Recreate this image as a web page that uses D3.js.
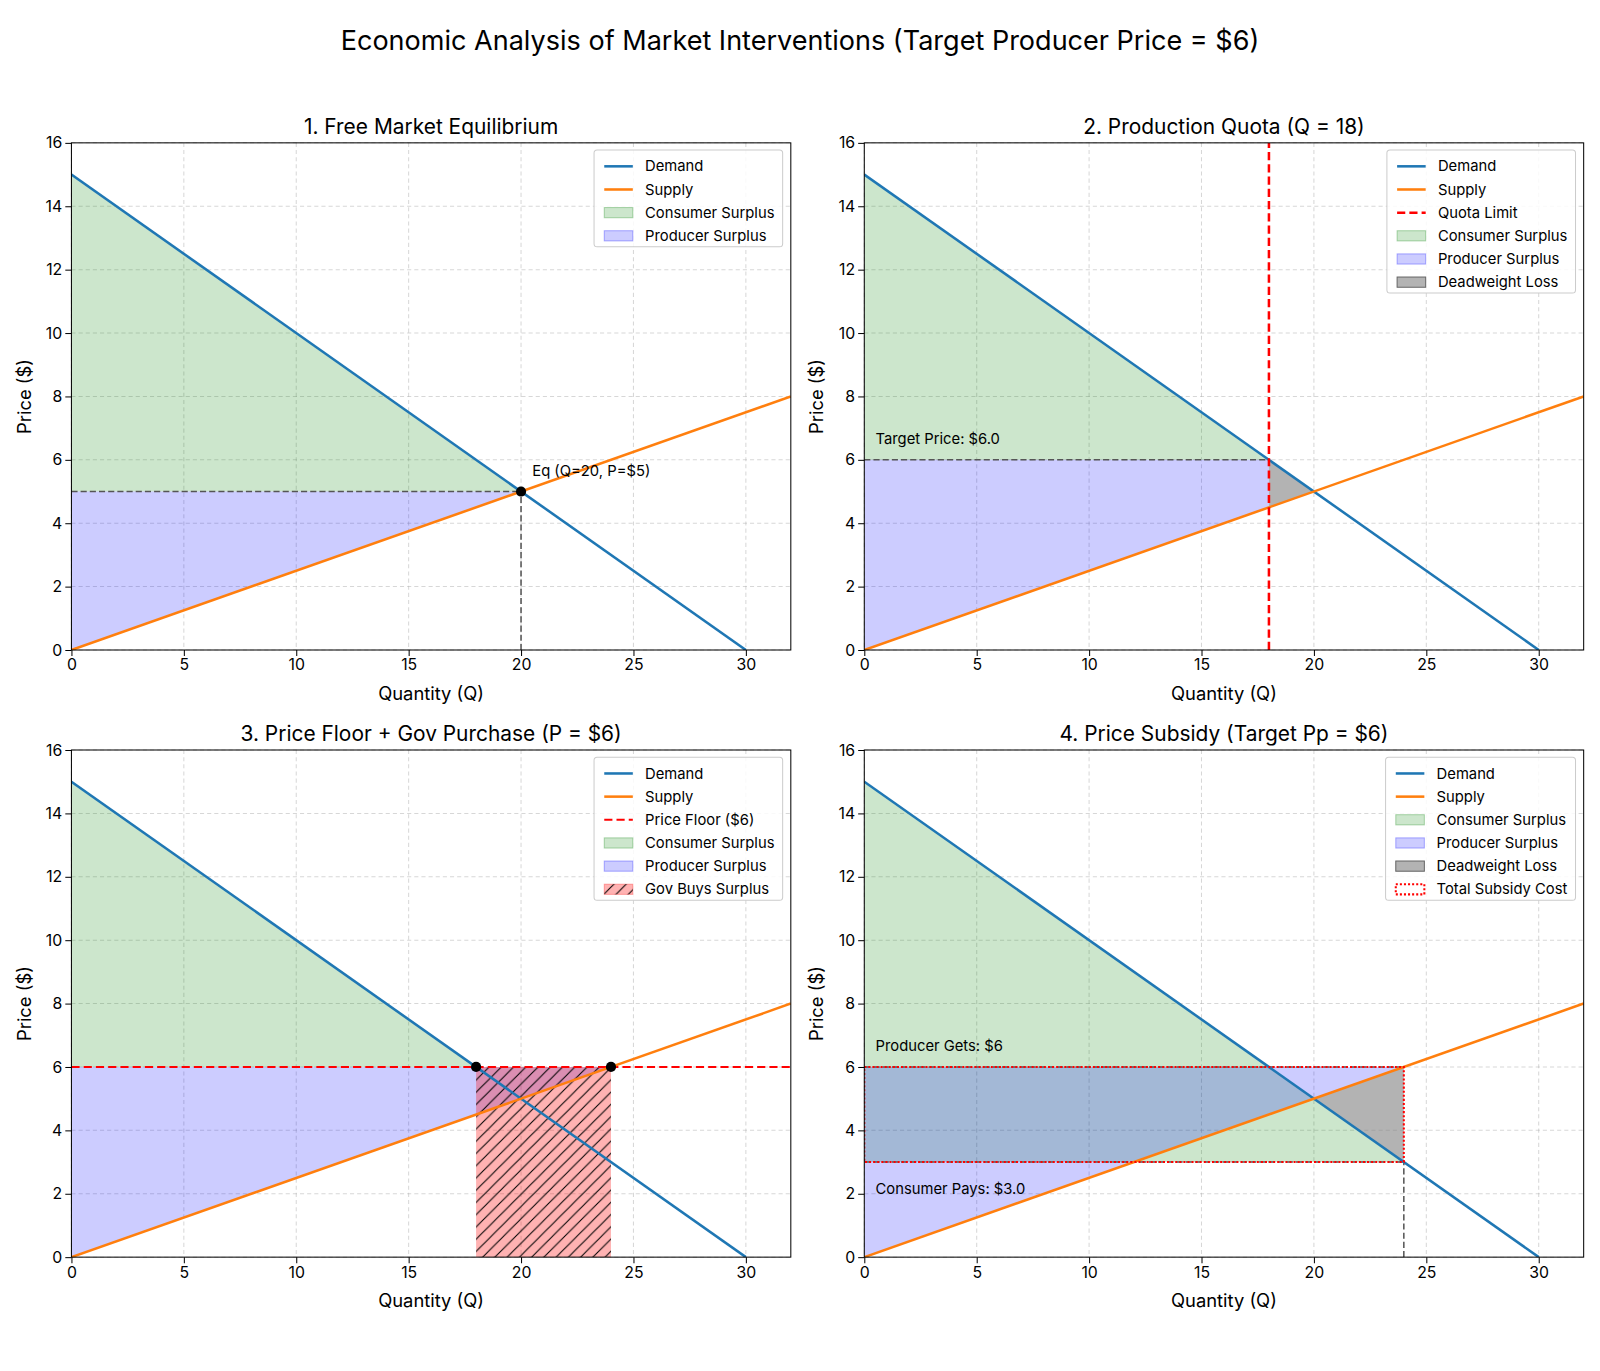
<!DOCTYPE html>
<html><head><meta charset="utf-8">
<script src="https://cdn.jsdelivr.net/npm/d3@7"></script>
<style>body{margin:0;background:#fff;font-family:"Inter","Noto Sans",sans-serif;}</style>
</head><body><div id="chart"></div>
<script>
// market model: demand P = 15 - 0.5Q, supply P = 0.25Q
var demandQ = [0, 30], demandP = [15, 0];
var supplyQ = [0, 32], supplyP = [0, 8];
var xTicks = [0, 5, 10, 15, 20, 25, 30];
var yTicks = [0, 2, 4, 6, 8, 10, 12, 14, 16];
var titles = ["1. Free Market Equilibrium", "2. Production Quota (Q = 18)",
  "3. Price Floor + Gov Purchase (P = $6)", "4. Price Subsidy (Target Pp = $6)"];

var W = 1600, H = 1371, S = 1600 / 1568;
var root = d3.select("#chart").append("svg").attr("width", W).attr("height", H)
  .style("font-family", "Inter, 'Noto Sans', sans-serif");
var defs = root.append("defs");
var svg = root.append("g").attr("transform", "scale(" + S + ")");
svg.append("text").attr("x", 784).attr("y", 49).attr("text-anchor", "middle")
  .attr("font-size", 26.5).text("Economic Analysis of Market Interventions (Target Producer Price = $6)");

var pos = [[70, 140], [847, 140], [70, 735], [847, 735]];
var pw = 705, ph = 497;
defs.append("pattern").attr("id", "hatch").attr("patternUnits", "userSpaceOnUse")
  .attr("width", 12).attr("height", 12)
  .append("path").attr("d", "M-3,15 L15,-3 M-3,3 L3,-3 M9,15 L15,9")
  .attr("stroke", "#000").attr("stroke-width", 1);

var green = "rgba(0,128,0,0.2)", blue = "rgba(0,0,255,0.2)", grey = "rgba(128,128,128,0.6)", pink = "rgba(255,0,0,0.3)";

function panel(i) {
  var g = svg.append("g").attr("transform", "translate(" + pos[i][0] + "," + pos[i][1] + ")");
  var x = d3.scaleLinear().domain([0, 32]).range([0, pw]);
  var y = d3.scaleLinear().domain([0, 16]).range([ph, 0]);
  defs.append("clipPath").attr("id", "clip" + i).append("rect").attr("width", pw).attr("height", ph);
  var grid = g.append("g").attr("stroke", "#b0b0b0").attr("stroke-opacity", 0.5).attr("stroke-dasharray", "4,3");
  xTicks.forEach(function (t) { grid.append("line").attr("x1", x(t)).attr("x2", x(t)).attr("y1", 0).attr("y2", ph); });
  yTicks.forEach(function (t) { grid.append("line").attr("y1", y(t)).attr("y2", y(t)).attr("x1", 0).attr("x2", pw); });
  var body = g.append("g").attr("clip-path", "url(#clip" + i + ")");
  var line = d3.line().x(function (d) { return x(d[0]); }).y(function (d) { return y(d[1]); });
  function poly(pts, fill) {
    return body.append("path").attr("d", line(pts) + "Z").attr("fill", fill);
  }
  function dline(pts, color, dash, w) {
    body.append("path").attr("d", line(pts)).attr("fill", "none").attr("stroke", color)
      .attr("stroke-width", w || 1.5).attr("stroke-dasharray", dash || null);
  }
  return {g: g, body: body, x: x, y: y, line: line, poly: poly, dline: dline};
}

function curves(p) {
  p.dline(d3.zip(demandQ, demandP), "#1f77b4", null, 2.5);
  p.dline(d3.zip(supplyQ, supplyP), "#ff7f0e", null, 2.5);
}

function finish(p, i, legend) {
  var g = p.g;
  g.append("rect").attr("width", pw).attr("height", ph).attr("fill", "none").attr("stroke", "#000").attr("stroke-width", 1);
  var xa = g.append("g").attr("transform", "translate(0," + ph + ")").call(d3.axisBottom(p.x).tickValues(xTicks).tickSizeOuter(0));
  var ya = g.append("g").call(d3.axisLeft(p.y).tickValues(yTicks).tickSizeOuter(0));
  [xa, ya].forEach(function (a) { a.select(".domain").remove(); a.selectAll("text").attr("font-size", 15.5).attr("font-family", "Inter, 'Noto Sans', sans-serif").attr("fill", "#000"); });
  g.append("text").attr("x", pw / 2).attr("y", ph + 49).attr("text-anchor", "middle").attr("font-size", 18).text("Quantity (Q)");
  g.append("text").attr("transform", "translate(-40," + ph / 2 + ") rotate(-90)").attr("text-anchor", "middle").attr("font-size", 18).text("Price ($)");
  g.append("text").attr("x", pw / 2).attr("y", -9).attr("text-anchor", "middle").attr("font-size", 20.5).text(titles[i]);
  // legend
  var lg = g.append("g");
  var box = lg.append("rect").attr("fill", "#fff").attr("fill-opacity", 0.85).attr("stroke", "#ccc").attr("rx", 3);
  var maxw = 0;
  legend.forEach(function (e, k) {
    var yy = 16 + k * 22.7;
    if (e.type === "line") {
      lg.append("line").attr("x1", 10).attr("x2", 38).attr("y1", yy).attr("y2", yy).attr("stroke", e.color)
        .attr("stroke-width", e.w || 2.5).attr("stroke-dasharray", e.dash || null);
    } else {
      lg.append("rect").attr("x", 10).attr("y", yy - 5).attr("width", 28).attr("height", 10).attr("fill", e.color)
        .attr("stroke", e.stroke || "none").attr("stroke-width", e.sw || 1).attr("stroke-dasharray", e.dash || null);
      if (e.hatch) lg.append("rect").attr("x", 10).attr("y", yy - 5).attr("width", 28).attr("height", 10).attr("fill", "url(#hatch)");
    }
    var t = lg.append("text").attr("x", 50).attr("y", yy + 5).attr("font-size", 14.5).text(e.label);
    maxw = Math.max(maxw, t.node().getComputedTextLength());
  });
  var bw = maxw + 58, bh = legend.length * 22.7 + 4;
  box.attr("width", bw).attr("height", bh);
  lg.attr("transform", "translate(" + (pw - bw - 8) + ",7)");
}
function label(p, q, pr, txt) {
  p.g.append("text").attr("x", p.x(q)).attr("y", p.y(pr)).attr("font-size", 14.5).text(txt);
}
function dot(p, q, pr) {
  p.g.append("circle").attr("cx", p.x(q)).attr("cy", p.y(pr)).attr("r", 5).attr("fill", "#000");
}
var base = [{type: "line", color: "#1f77b4", label: "Demand"}, {type: "line", color: "#ff7f0e", label: "Supply"}];
var csL = {type: "rect", color: green, stroke: "rgba(0,128,0,0.3)", label: "Consumer Surplus"};
var psL = {type: "rect", color: blue, stroke: "rgba(0,0,255,0.3)", label: "Producer Surplus"};
var dwL = {type: "rect", color: grey, stroke: "#666", label: "Deadweight Loss"};

// 1
var p = panel(0);
p.poly([[0, 15], [20, 5], [0, 5]], green);
p.poly([[0, 5], [20, 5], [0, 0]], blue);
p.dline([[0, 5], [20, 5]], "#555", "6,3");
p.dline([[20, 0], [20, 5]], "#555", "6,3");
curves(p);
dot(p, 20, 5);
label(p, 20.5, 5.5, "Eq (Q=20, P=$5)");
finish(p, 0, base.concat([csL, psL]));

// 2
p = panel(1);
p.poly([[0, 15], [18, 6], [0, 6]], green);
p.poly([[0, 6], [18, 6], [18, 4.5], [0, 0]], blue);
p.poly([[18, 6], [20, 5], [18, 4.5]], grey);
p.dline([[0, 6], [18, 6]], "#555", "6,3");
curves(p);
p.dline([[18, 0], [18, 16]], "red", "8,4", 2.5);
label(p, 0.5, 6.5, "Target Price: $6.0");
finish(p, 1, base.concat([{type: "line", color: "red", dash: "8,4", label: "Quota Limit"}, csL, psL, dwL]));

// 3
p = panel(2);
p.poly([[0, 15], [18, 6], [0, 6]], green);
p.poly([[0, 0], [24, 6], [0, 6]], blue);
p.poly([[18, 0], [24, 0], [24, 6], [18, 6]], pink);
p.poly([[18, 0], [24, 0], [24, 6], [18, 6]], "url(#hatch)");
p.dline([[0, 6], [32, 6]], "red", "8,4", 2);
curves(p);
dot(p, 18, 6); dot(p, 24, 6);
finish(p, 2, base.concat([{type: "line", color: "red", dash: "8,4", w: 2, label: "Price Floor ($6)"}, csL, psL,
  {type: "rect", color: pink, stroke: "rgba(255,0,0,0.3)", hatch: true, label: "Gov Buys Surplus"}]));

// 4
p = panel(3);
p.poly([[0, 15], [24, 3], [0, 3]], green);
p.poly([[0, 0], [24, 6], [0, 6]], blue);
p.poly([[20, 5], [24, 6], [24, 3]], grey);
p.dline([[0, 6], [24, 6]], "#555", "6,3");
p.dline([[0, 3], [24, 3]], "#555", "6,3");
p.dline([[24, 0], [24, 3]], "#555", "6,3");
curves(p);
p.body.append("rect").attr("x", p.x(0)).attr("y", p.y(6)).attr("width", p.x(24) - p.x(0)).attr("height", p.y(3) - p.y(6))
  .attr("fill", "none").attr("stroke", "red").attr("stroke-width", 2).attr("stroke-dasharray", "2,2");
label(p, 0.5, 6.5, "Producer Gets: $6");
label(p, 0.5, 2.0, "Consumer Pays: $3.0");
finish(p, 3, base.concat([csL, psL, dwL, {type: "rect", color: "none", stroke: "red", sw: 2, dash: "2,2", label: "Total Subsidy Cost"}]));
</script></body></html>
